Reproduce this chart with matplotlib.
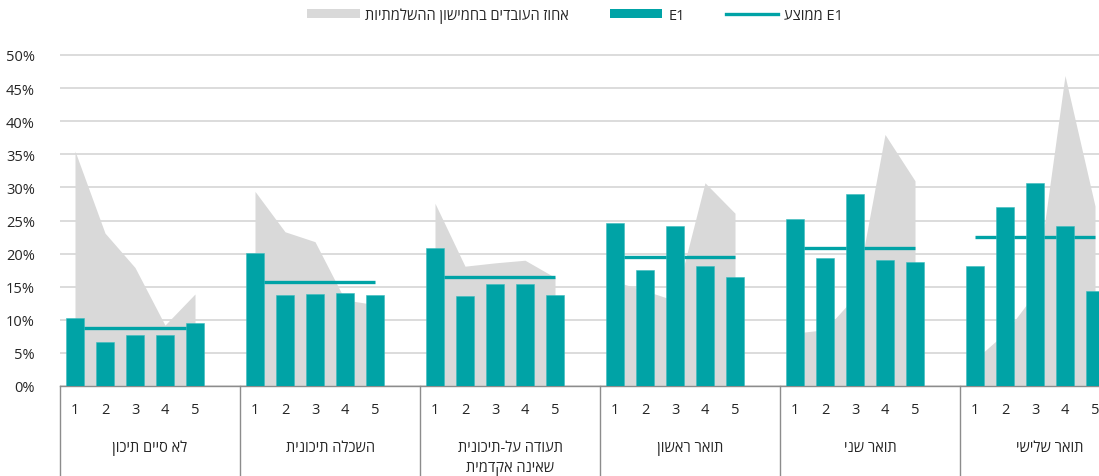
import matplotlib
matplotlib.use('Agg')
import matplotlib.pyplot as plt
import numpy as np
from matplotlib.patches import Patch
from matplotlib.lines import Line2D
from matplotlib.transforms import blended_transform_factory

plt.rcParams['font.family'] = ['Open Sans', 'DejaVu Sans']
plt.rcParams['font.size'] = 10.5


def rtl(s):
    # matplotlib has no bidi support, so hebrew is written in visual order
    return s[::-1]


groups = ['לא סיים תיכון', 'השכלה תיכונית', 'תעודה על-תיכונית\nשאינה אקדמית',
          'תואר ראשון', 'תואר שני', 'תואר שלישי']
quintiles = ['1', '2', '3', '4', '5']

# אחוז העובדים בחמישון ההשלמתיות (%)
share_g1 = [35.5, 23.1, 17.9, 9.2, 13.9]
share_g2 = [29.4, 23.3, 21.8, 13.0, 12.3]
share_g3 = [27.6, 18.1, 18.6, 19.0, 16.4]
share_g4 = [15.8, 14.4, 12.9, 30.7, 26.1]
share_g5 = [8.0, 8.5, 13.5, 38.0, 31.0]
share_g6 = [4.0, 8.0, 14.0, 46.9, 27.2]

# E1 (%)
e1_g1 = [10.3, 6.7, 7.75, 7.7, 9.5]
e1_g2 = [20.1, 13.7, 13.85, 14.05, 13.7]
e1_g3 = [20.9, 13.6, 15.4, 15.4, 13.7]
e1_g4 = [24.6, 17.5, 24.2, 18.2, 16.5]
e1_g5 = [25.2, 19.3, 29.0, 19.1, 18.7]
e1_g6 = [18.2, 27.1, 30.7, 24.2, 14.35]

# ממוצע E1 (%)
e1_mean = [8.8, 15.75, 16.4, 19.5, 20.9, 22.5]

shares = [share_g1, share_g2, share_g3, share_g4, share_g5, share_g6]
e1 = [e1_g1, e1_g2, e1_g3, e1_g4, e1_g5, e1_g6]

teal = '#00a3a6'
grey = '#d9d9d9'

W, H = 1099, 477
fig = plt.figure(figsize=(W / 100, H / 100), dpi=100)
ymax = 0.51
ax = fig.add_axes([60 / W, 90 / H, 1 - 60 / W, 331 / 0.5 * ymax / H])

for g in range(6):
    x = np.arange(5) + 6 * g
    ax.fill_between(x, 0, np.array(shares[g]) / 100, color=grey, lw=0, zorder=1)
    ax.plot([x[0], x[-1]], [e1_mean[g] / 100] * 2, color=teal, lw=2.4,
            solid_capstyle='butt', zorder=2)
    ax.bar(x, np.array(e1[g]) / 100, width=0.62, color=teal, zorder=3,
           edgecolor='#3dbcbe', linewidth=0.4)

ax.set_xlim(-0.5, (W - 75) / 30)
ax.set_ylim(0, ymax)
ax.set_yticks(np.arange(0, 0.51, 0.05))
ax.set_yticklabels([f'{int(round(v * 100))}%' for v in np.arange(0, 0.51, 0.05)],
                   color='#262626')
ax.tick_params(axis='y', length=0, pad=18)
ax.set_xticks([])
for s in ['top', 'right', 'left']:
    ax.spines[s].set_visible(False)
ax.spines['bottom'].set_color('#8c8c8c')
ax.spines['bottom'].set_linewidth(1)
ax.yaxis.grid(True, color=grey, lw=1.3)
ax.set_axisbelow(True)

# two level category axis under the plot
tr = blended_transform_factory(ax.transData, fig.transFigure)
for g in range(6):
    ax.plot([6 * g - 0.5] * 2, [0, 90 / H], color='#8c8c8c', lw=1,
            transform=tr, clip_on=False)
    for i, q in enumerate(quintiles):
        ax.text(6 * g + i, 1 - 411 / H, q, transform=tr, ha='center',
                va='center', color='#262626')
    lines = groups[g].split('\n')
    for k, line in enumerate(lines):
        ax.text(6 * g + 2.5, 1 - (448 + 21 * k) / H, rtl(line), transform=tr,
                ha='center', va='center', color='#262626')

handles = [Patch(facecolor=grey, edgecolor='none'),
           Patch(facecolor=teal, edgecolor='none'),
           Line2D([0], [0], color=teal, lw=2.4)]
labels = [rtl('אחוז העובדים בחמישון ההשלמתיות'), 'E1', rtl('ממוצע') + ' E1']
fig.legend(handles, labels, loc='center', bbox_to_anchor=(575 / W, 1 - 16 / H),
           ncol=3, frameon=False, handlelength=3.6, handleheight=0.5,
           handletextpad=0.4, columnspacing=2.8, labelcolor='#262626')

fig.savefig('out.png', dpi=100)
